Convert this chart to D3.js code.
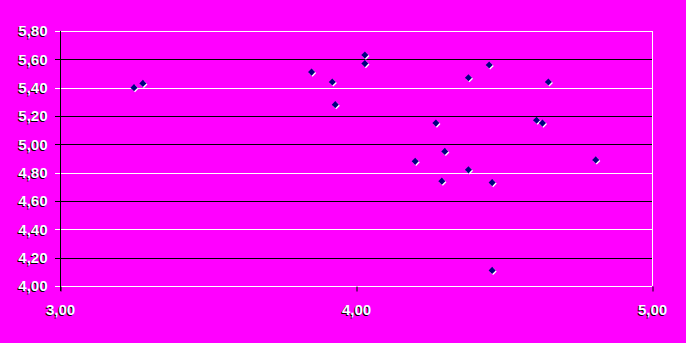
<!DOCTYPE html>
<html>
<head>
<meta charset="utf-8">
<script src="https://cdn.jsdelivr.net/npm/d3@7"></script>
<style>
  html, body { margin: 0; padding: 0; background: #ff00ff; }
  svg { display: block; }
  text { font-family: "Liberation Sans", Arial, sans-serif; font-weight: bold; font-size: 15px; }
</style>
</head>
<body>
<svg id="chart" width="686" height="343"></svg>
<script>
// scatter points
const xValues = [3.25, 3.28, 3.85, 3.92, 3.93, 4.03, 4.03, 4.38, 4.45, 4.65,
  4.27, 4.61, 4.63, 4.20, 4.30, 4.81, 4.38, 4.29, 4.46, 4.46]
const yValues = [5.40, 5.43, 5.51, 5.44, 5.28, 5.63, 5.57, 5.47, 5.56, 5.44,
  5.15, 5.17, 5.15, 4.88, 4.95, 4.89, 4.82, 4.74, 4.73, 4.11]

const xTicks = [3, 4, 5]
const yTicks = [4.0, 4.2, 4.4, 4.6, 4.8, 5.0, 5.2, 5.4, 5.6, 5.8]

// gridline colours as they appear (white / black alternating, dithered look)
const GRID_COLOR = { 4.0: '#fff', 4.2: '#000', 4.4: '#fff', 4.6: '#000', 4.8: '#fff',
  5.0: '#000', 5.2: '#000', 5.4: '#fff', 5.6: '#000', 5.8: '#fff' }

const LEFT = 60, RIGHT = 652, TOP = 31, BOTTOM = 286
const TICK = 5

const fmt = d => d3.format('.2f')(d).replace('.', ',')

const svg = d3.select('#chart')

const x = d3.scaleLinear().domain([3, 5]).range([LEFT, RIGHT])
const y = d3.scaleLinear().domain([4, 5.8]).range([BOTTOM, TOP])

svg.append('rect')
  .attr('width', 686).attr('height', 343)
  .attr('fill', '#ff00ff')

// horizontal gridlines, running out to the left as tick marks
svg.append('g')
  .selectAll('line')
  .data(yTicks)
  .join('line')
  .attr('x1', LEFT - TICK)
  .attr('x2', RIGHT)
  .attr('y1', d => Math.round(y(d)) + 0.5)
  .attr('y2', d => Math.round(y(d)) + 0.5)
  .attr('stroke', d => GRID_COLOR[d.toFixed(1) * 1])
  .attr('stroke-width', 1)

// right border
svg.append('line')
  .attr('x1', RIGHT + 0.5).attr('x2', RIGHT + 0.5)
  .attr('y1', TOP).attr('y2', BOTTOM)
  .attr('stroke', '#fff')

// y axis
const yAxis = svg.append('g')
  .attr('transform', `translate(${LEFT + 0.5},0)`)
  .call(d3.axisLeft(y).tickValues(yTicks).tickSize(0).tickPadding(13).tickFormat(fmt))
yAxis.select('.domain').remove()
yAxis.append('line')
  .attr('y1', TOP).attr('y2', BOTTOM + TICK)
  .attr('stroke', '#000')

// x axis
const xAxis = svg.append('g')
  .attr('transform', `translate(0,${BOTTOM + 0.5})`)
  .call(d3.axisBottom(x).tickValues(xTicks).tickSize(TICK).tickPadding(13).tickFormat(fmt))
xAxis.select('.domain').remove()
xAxis.selectAll('.tick line').attr('stroke', '#000').attr('transform', 'translate(0.5,0)')

// white labels with a dark edge
svg.selectAll('.tick text').each(function () {
  const t = d3.select(this)
  t.attr('fill', '#fff')
  const shadow = this.cloneNode(true)
  this.parentNode.insertBefore(shadow, this)
  d3.select(shadow).attr('fill', '#000').attr('transform', 'translate(-1,1)')
})
svg.selectAll('.tick text').attr('font-family', null).attr('font-size', null)

// points: navy diamonds with a white highlight
const diamond = d3.symbol().type(d3.symbolDiamond2).size(32)
const points = d3.zip(xValues, yValues)

svg.append('g')
  .selectAll('path')
  .data(points)
  .join('path')
  .attr('d', diamond)
  .attr('transform', d => `translate(${x(d[0]) + 1},${y(d[1]) + 1})`)
  .attr('fill', '#fff')

svg.append('g')
  .selectAll('path')
  .data(points)
  .join('path')
  .attr('d', diamond)
  .attr('transform', d => `translate(${x(d[0])},${y(d[1])})`)
  .attr('fill', '#000080')
</script>
</body>
</html>
